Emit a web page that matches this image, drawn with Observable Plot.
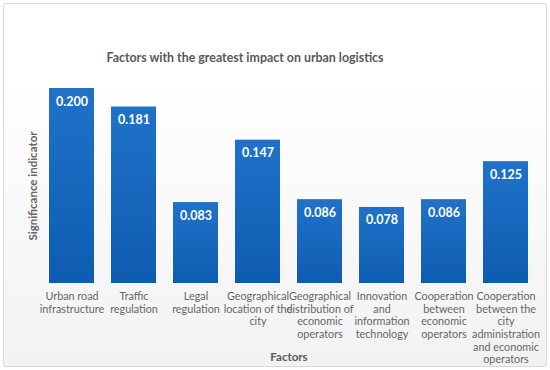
<!DOCTYPE html>
<html>
<head>
<meta charset="utf-8">
<script src="https://cdn.jsdelivr.net/npm/d3@7"></script>
<script src="https://cdn.jsdelivr.net/npm/@observablehq/plot@0.6"></script>
<style>
  html, body { margin: 0; padding: 0; background: #fff; }
  #wrap { position: relative; width: 550px; height: 370px; overflow: hidden; }
  #card { position: absolute; left: 3px; top: 3px; width: 542px; height: 362px;
          border: 1px solid #d9d9d9; border-radius: 3px;
          background: linear-gradient(#ffffff 0%, #ffffff 20%, #f2f2f2 100%); }
  #chart { position: absolute; left: 0; top: 0; }
</style>
</head>
<body>
<div id="wrap"><div id="card"></div><div id="chart"></div></div>
<script>
const title = "Factors with the greatest impact on urban logistics";
const xTitle = "Factors";
const yTitle = "Significance indicator";
const categories = [
  "Urban road infrastructure",
  "Traffic regulation",
  "Legal regulation",
  "Geographical location of the city",
  "Geographical distribution of economic operators",
  "Innovation and information technology",
  "Cooperation between economic operators",
  "Cooperation between the city administration and economic operators"
];
const tickLabels = [
  "Urban road\ninfrastructure",
  "Traffic\nregulation",
  "Legal\nregulation",
  "Geographical\nlocation of the\ncity",
  "Geographical\ndistribution of\neconomic\noperators",
  "Innovation\nand\ninformation\ntechnology",
  "Cooperation\nbetween\neconomic\noperators",
  "Cooperation\nbetween the\ncity\nadministration\nand economic\noperators"
];
const values = [0.200, 0.181, 0.083, 0.147, 0.086, 0.078, 0.086, 0.125];

const data = categories.map((c, i) => ({factor: c, value: values[i]}));
const labelOf = new Map(categories.map((c, i) => [c, tickLabels[i]]));
const font = "Lato, Carlito, Calibri, sans-serif";

const plot = Plot.plot({
  width: 550,
  height: 370,
  marginLeft: 46,
  marginRight: 19,
  marginTop: 88,
  marginBottom: 87,
  style: {background: "transparent", fontFamily: font, overflow: "visible"},
  x: {domain: categories, paddingInner: 0.28, paddingOuter: 0, label: null},
  y: {domain: [0, 0.2], axis: null},
  marks: [
    Plot.barY(data, {x: "factor", y: "value", fill: "url(#barGrad)"}),
    Plot.text(data, {x: "factor", y: "value", text: d => d.value.toFixed(3),
      dy: 13, fill: "white", fontWeight: "bold", fontSize: 12.5}),
    Plot.axisX({tickSize: 0, tickPadding: 8, tickFormat: d => labelOf.get(d),
      fontSize: 10.8, fill: "#666666", lineHeight: 1.16, label: null}),
    Plot.text([title], {frameAnchor: "top", dy: -35, dx: -44, fontSize: 12.4,
      fontWeight: "bold", fill: "#595959"}),
    Plot.text([xTitle], {frameAnchor: "bottom", dy: 77, fontSize: 11.5,
      fontWeight: "bold", fill: "#595959"}),
    Plot.text([yTitle], {frameAnchor: "left", textAnchor: "middle", dx: -13, rotate: -90,
      fontSize: 11.5, fontWeight: "bold", fill: "#666666"})
  ]
});

const ns = "http://www.w3.org/2000/svg";
const defs = document.createElementNS(ns, "defs");
defs.innerHTML = '<linearGradient id="barGrad" x1="0" y1="0" x2="0" y2="1">' +
  '<stop offset="0" stop-color="#2072c9"/><stop offset="1" stop-color="#0d5cb1"/></linearGradient>';
plot.insertBefore(defs, plot.firstChild);
document.getElementById("chart").appendChild(plot);
</script>
</body>
</html>
